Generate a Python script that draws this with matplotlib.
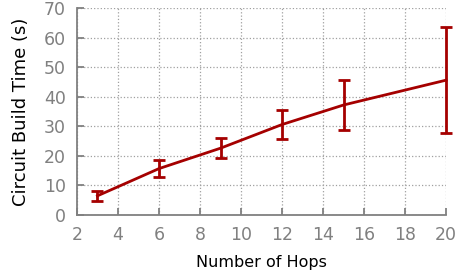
import matplotlib
matplotlib.use("Agg")
import matplotlib.pyplot as plt

hops = [3, 6, 9, 12, 15, 20]
build_time = [6.5, 15.7, 22.6, 30.6, 37.2, 45.6]
build_err = [1.6, 2.8, 3.3, 5.0, 8.6, 17.8]

fig = plt.figure(figsize=(4.58, 2.75), dpi=100)
ax = fig.add_axes([0.168, 0.218, 0.806, 0.753])

color = '#a50000'
_, caps, bars = ax.errorbar(hops, build_time, yerr=build_err, color=color, lw=2,
                            elinewidth=2, capsize=4, capthick=2, clip_on=False)
for c in caps:
    c.set_clip_on(False)
for b in bars:
    b.set_clip_on(False)

ax.set_xlim(2, 20)
ax.set_ylim(0, 70)
ax.set_xticks(range(2, 21, 2))
ax.set_yticks(range(0, 71, 10))
ax.grid(True, linestyle=':', color='#a0a0a0', linewidth=0.9)
for s in ['top', 'right']:
    ax.spines[s].set_visible(False)
for s in ['left', 'bottom']:
    ax.spines[s].set_color('#808080')
    ax.spines[s].set_linewidth(1.3)
ax.tick_params(direction='in', length=5, width=1.3, color='#808080',
               labelcolor='#808080', labelsize=12.5, pad=8)
ax.set_xlabel('Number of Hops', fontsize=11.5, labelpad=8)
ax.set_ylabel('Circuit Build Time (s)', fontsize=13, labelpad=10)

fig.savefig('out.png', dpi=100)
